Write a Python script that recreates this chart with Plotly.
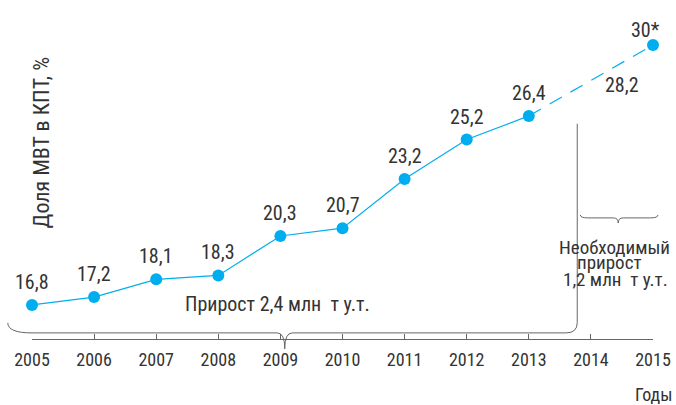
import plotly.graph_objects as go

years = [2005, 2006, 2007, 2008, 2009, 2010, 2011, 2012, 2013]
share = [16.8, 17.2, 18.1, 18.3, 20.3, 20.7, 23.2, 25.2, 26.4]
forecast_years = [2013, 2014, 2015]
forecast_share = [26.4, 28.2, 30.0]
value_labels = ["16,8", "17,2", "18,1", "18,3", "20,3", "20,7", "23,2", "25,2", "26,4"]
forecast_labels = ["28,2", "30*"]
tick_years = list(range(2005, 2016))
note_lines = ["Необходимый", "прирост", "1,2 млн  т у.т."]

X_RANGE = [2005, 2015]
Y_RANGE = [15.07, 31.27]

FONT = "Roboto Condensed, DejaVu Sans Condensed, sans-serif"
TXT = "#333333"
BLUE = "#00aeef"
GRAY = "#666666"

def px_(year):
    return (year - X_RANGE[0]) / (X_RANGE[1] - X_RANGE[0])

def py_(v):
    return (v - Y_RANGE[0]) / (Y_RANGE[1] - Y_RANGE[0])

fig = go.Figure()
fig.add_trace(go.Scatter(
    x=years, y=share, mode="lines+markers",
    line=dict(color=BLUE, width=1.2),
    marker=dict(color=BLUE, size=12),
    cliponaxis=False, hoverinfo="skip", showlegend=False))
fig.add_trace(go.Scatter(
    x=forecast_years, y=forecast_share, mode="lines",
    line=dict(color=BLUE, width=1.2, dash="14px,10px"),
    cliponaxis=False, hoverinfo="skip", showlegend=False))
fig.add_trace(go.Scatter(
    x=[forecast_years[-1]], y=[forecast_share[-1]], mode="markers",
    marker=dict(color=BLUE, size=12),
    cliponaxis=False, hoverinfo="skip", showlegend=False))

annotations = []
for x, y, t in zip(years, share, value_labels):
    annotations.append(dict(x=x, y=y, text=t, showarrow=False, yshift=23,
                            font=dict(family=FONT, size=20, color=TXT)))
annotations.append(dict(x=2014.5, y=forecast_share[1], text=forecast_labels[0], showarrow=False,
                        yshift=-5, font=dict(family=FONT, size=20, color=TXT)))
annotations.append(dict(x=forecast_years[-1], y=forecast_share[-1], text=forecast_labels[1],
                        showarrow=False, yshift=15, xshift=-8,
                        font=dict(family=FONT, size=20, color=TXT)))
annotations.append(dict(xref="paper", yref="paper", x=0.0145, y=0.614, text="Доля МВТ в КПТ, %",
                        textangle=-90, showarrow=False, xanchor="center", yanchor="middle",
                        font=dict(family=FONT, size=22, color=TXT)))
annotations.append(dict(x=2008.95, y=16.85, text="Прирост 2,4 млн  т у.т.", showarrow=False,
                        xanchor="center", font=dict(family=FONT, size=20, color=TXT)))
for t, yv, xv in zip(note_lines, [19.74, 18.93, 18.07], [2014.38, 2014.3, 2014.4]):
    annotations.append(dict(x=xv, y=yv, text=t, showarrow=False, xanchor="center", yanchor="middle",
                            font=dict(family=FONT, size=19, color=TXT)))
annotations.append(dict(xref="paper", yref="paper", x=1.0, y=-0.175, text="Годы", showarrow=False,
                        xanchor="center", yanchor="middle",
                        font=dict(family=FONT, size=18, color=TXT)))

# brace paths (paper coordinates)
b_left = px_(2004.61); b_mid = px_(2009.07); b_right = px_(2013.78)
yb = py_(15.38); yb_top = py_(15.89); yb_tip = py_(14.57)
bottom_brace = (f"M {b_left},{yb_top} Q {b_left},{yb} {px_(2005.0)},{yb} "
                f"L {px_(2008.95)},{yb} Q {b_mid},{yb} {b_mid},{yb_tip} "
                f"Q {b_mid},{yb} {px_(2009.19)},{yb} "
                f"L {px_(2013.6)},{yb} Q {b_right},{yb} {b_right},{py_(15.9)} "
                f"L {b_right},{py_(26.0)}")
t_left = px_(2013.83); t_mid = px_(2014.44); t_right = px_(2015.08)
ty = py_(21.22); ty_end = py_(21.37); ty_tip = py_(20.96)
top_brace = (f"M {t_left},{ty_end} Q {t_left},{ty} {px_(2013.95)},{ty} "
             f"L {px_(2014.36)},{ty} Q {t_mid},{ty} {t_mid},{ty_tip} "
             f"Q {t_mid},{ty} {px_(2014.52)},{ty} "
             f"L {px_(2014.96)},{ty} Q {t_right},{ty} {t_right},{ty_end}")

shapes = [
    dict(type="path", xref="paper", yref="paper", path=bottom_brace,
         line=dict(color=GRAY, width=1)),
    dict(type="path", xref="paper", yref="paper", path=top_brace,
         line=dict(color=GRAY, width=1)),
]

fig.update_layout(
    width=676, height=405,
    margin=dict(l=32, r=23, t=20, b=66),
    paper_bgcolor="white", plot_bgcolor="white",
    annotations=annotations, shapes=shapes,
    xaxis=dict(range=X_RANGE, tickmode="array", tickvals=tick_years,
               ticktext=[str(y) for y in tick_years], automargin=False,
               showgrid=False, zeroline=False, showline=True, linecolor=GRAY, linewidth=1,
               ticks="inside", ticklen=5, tickcolor=GRAY, ticklabelstandoff=4,
               tickfont=dict(family=FONT, size=18, color=TXT)),
    yaxis=dict(range=Y_RANGE, visible=False, automargin=False),
)
# remove the browser's default 8px page margin so the figure fills the window exactly
fig.write_html("out.html", default_width="676px", default_height="405px",
               config={"displayModeBar": False},
               post_script="document.body.style.margin='0';document.body.style.overflow='hidden';")
